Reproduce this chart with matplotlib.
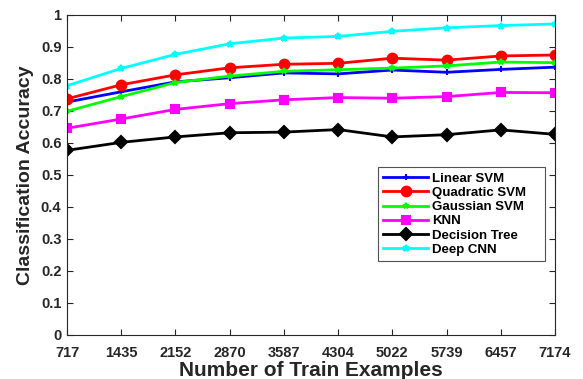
import matplotlib
matplotlib.use("Agg")
import matplotlib.pyplot as plt

plt.rcParams['font.family'] = ['Liberation Sans', 'DejaVu Sans']
plt.rcParams['font.weight'] = 'bold'

train_sizes = [717, 1435, 2152, 2870, 3587, 4304, 5022, 5739, 6457, 7174]
linear_svm = [0.728, 0.760, 0.791, 0.804, 0.819, 0.816, 0.828, 0.821, 0.830, 0.837]
quadratic_svm = [0.738, 0.782, 0.813, 0.835, 0.846, 0.849, 0.865, 0.859, 0.872, 0.875]
gaussian_svm = [0.699, 0.745, 0.789, 0.809, 0.824, 0.829, 0.834, 0.841, 0.853, 0.851]
knn = [0.646, 0.675, 0.705, 0.723, 0.735, 0.742, 0.740, 0.745, 0.758, 0.757]
decision_tree = [0.577, 0.602, 0.619, 0.632, 0.634, 0.642, 0.619, 0.626, 0.641, 0.627]
deep_cnn = [0.779, 0.833, 0.877, 0.910, 0.928, 0.933, 0.949, 0.960, 0.967, 0.972]

y_ticks = [0, 0.1, 0.2, 0.3, 0.4, 0.5, 0.6, 0.7, 0.8, 0.9, 1]
y_tick_labels = ['0', '0.1', '0.2', '0.3', '0.4', '0.5', '0.6', '0.7', '0.8', '0.9', '1']

fig = plt.figure(figsize=(5.83, 3.79), dpi=100)
ax = fig.add_axes([67/583, 1 - 335/379, (555-67)/583, (335-15)/379])

series = [
    (linear_svm, 'Linear SVM', '#0000ff', '+', 5),
    (quadratic_svm, 'Quadratic SVM', '#ff0000', 'o', 7),
    (gaussian_svm, 'Gaussian SVM', '#00ff00', '*', 4),
    (knn, 'KNN', '#ff00ff', 's', 6),
    (decision_tree, 'Decision Tree', '#000000', 'D', 6),
    (deep_cnn, 'Deep CNN', '#00ffff', '*', 5),
]
for vals, label, color, marker, ms in series:
    ax.plot(train_sizes, vals, color=color, marker=marker, markersize=ms,
            markeredgewidth=1.5, linewidth=2, label=label)

ax.set_xlim(train_sizes[0], train_sizes[-1])
ax.set_ylim(0, 1)
ax.set_xticks(train_sizes)
ax.set_xticklabels([str(v) for v in train_sizes], fontsize=10.5, fontweight='bold')
ax.set_yticks(y_ticks)
ax.set_yticklabels(y_tick_labels, fontsize=10.5, fontweight='bold')
ax.tick_params(direction='in', top=True, right=True, length=4, width=0.8, colors='#262626')
ax.tick_params(axis='x', pad=8)
ax.tick_params(axis='y', pad=4)
for s in ax.spines.values():
    s.set_color('#262626')
    s.set_linewidth(0.8)
ax.set_xlabel('Number of Train Examples', fontsize=15, fontweight='bold', color='#262626', labelpad=0.5)
ax.set_ylabel('Classification Accuracy', fontsize=14, fontweight='bold', color='#262626', labelpad=5)

leg = ax.legend(loc='lower left', bbox_to_anchor=(0.637, 0.231, 0.343, 0.294), mode='expand',
                frameon=True, fancybox=False, edgecolor='#262626',
                handlelength=3.4, borderaxespad=0, labelspacing=0.15, handletextpad=0.3,
                prop={'weight': 'bold', 'size': 9.5})
leg.get_frame().set_linewidth(0.8)

fig.savefig('out.png', dpi=100)
